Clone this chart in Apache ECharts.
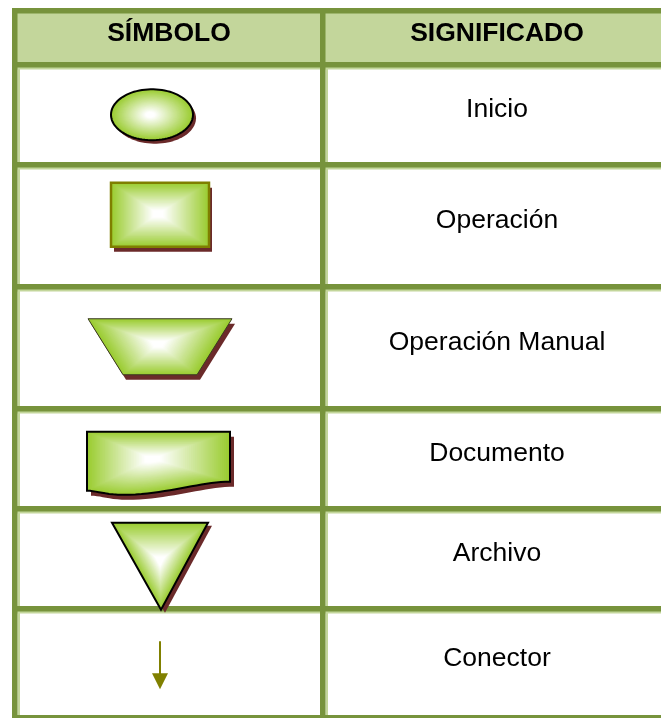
<!DOCTYPE html>
<html><head><meta charset="utf-8">
<script src="https://cdn.jsdelivr.net/npm/echarts@6/dist/echarts.min.js"></script>
<style>html,body{margin:0;padding:0;background:#fff;overflow:hidden}#c{width:661px;height:718px}</style>
</head><body><div id="c"></div>
<script>
// ---- data ----
const headers = ['SÍMBOLO', 'SIGNIFICADO'];
const symbols = ['Terminal', 'Proceso', 'Manual', 'Documento', 'Archivo', 'Conector'];
const meanings = ['Inicio', 'Operación', 'Operación Manual', 'Documento', 'Archivo', 'Conector'];

// ---- layout (table rules, in page units) ----
const rowLines = [8, 62, 162, 284, 406, 506, 606, 715];
const colLines = [12, 320];
const X1 = 672;
const DARK = '#77933C', LIGHT = '#C3D69B', HEAD = '#C3D69B';
const GREEN = '#9ACC30', WHITE = '#FFFFFF', SHADOW = '#6B2A2A';
const FAMILY = 'Liberation Sans';

function rowCenter(i) {
  const top = rowLines[i] + 5.5;
  return (top + rowLines[i + 1]) / 2;
}
function hex(c) { return [parseInt(c.substr(1,2),16), parseInt(c.substr(3,2),16), parseInt(c.substr(5,2),16)]; }
function mix(a, b, t) {
  const A = hex(a), B = hex(b);
  return 'rgb(' + A.map((v, k) => Math.round(v + (B[k] - v) * t)).join(',') + ')';
}
function bez(p0, p1, p2, p3, n) {
  const out = [];
  for (let k = 1; k <= n; k++) {
    const t = k / n, u = 1 - t;
    out.push([u*u*u*p0[0] + 3*u*u*t*p1[0] + 3*u*t*t*p2[0] + t*t*t*p3[0],
              u*u*u*p0[1] + 3*u*u*t*p1[1] + 3*u*t*t*p2[1] + t*t*t*p3[1]]);
  }
  return out;
}
function shapeGeom(name, rc) {
  if (name === 'Terminal') {
    const pts = [];
    for (let a = 0; a < 90; a++) { const t = a / 90 * 2 * Math.PI; pts.push([152 + 41 * Math.cos(t), rc + 25.5 * Math.sin(t)]); }
    return { pts, shadow: [3, 3.5], stroke: '#000', lw: 2, origin: [150, rc] };
  }
  if (name === 'Proceso') {
    return { pts: [[111, rc - 43], [209, rc - 43], [209, rc + 21], [111, rc + 21]], shadow: [3, 5], stroke: '#7F7F00', lw: 2.5, origin: [158, rc - 12] };
  }
  if (name === 'Manual') {
    return { pts: [[88, rc - 29], [232, rc - 29], [197, rc + 27], [123, rc + 27]], shadow: [3, 5], stroke: '#3A3A20', lw: 1, origin: [158, rc - 4] };
  }
  if (name === 'Documento') {
    let pts = [[87, rc - 27], [230, rc - 27], [230, rc + 23]];
    pts = pts.concat(bez([230, rc + 23], [200, rc + 23], [165, rc + 36], [123, rc + 36], 20));
    pts = pts.concat(bez([123, rc + 36], [105, rc + 36], [97, rc + 32], [87, rc + 32], 10));
    return { pts, shadow: [4, 5], stroke: '#000', lw: 2, origin: [152, rc] };
  }
  if (name === 'Archivo') {
    return { pts: [[112, rc - 36], [208, rc - 36], [161, rc + 51]], shadow: [4, 3], stroke: '#000', lw: 2, origin: [160, rc + 2] };
  }
  return null;
}
function textEl(p, str, weight) {
  return { type: 'text', x: p[0], y: p[1], style: { text: str, fontFamily: FAMILY, fontSize: 26.5, fontWeight: weight, fill: '#000', align: 'center', verticalAlign: 'middle', textAlign: 'center', textVerticalAlign: 'middle' } };
}

const chart = echarts.init(document.getElementById('c'));
chart.setOption({
  animation: false,
  grid: { left: 0, right: 0, top: 0, bottom: 0 },
  xAxis: { type: 'value', min: 0, max: 661, show: false },
  yAxis: { type: 'value', min: 0, max: 718, inverse: true, show: false },
  series: [
    { // header background
      type: 'custom', z: 1, silent: true,
      data: [[0]],
      renderItem: function (params, api) {
        const a = api.coord([colLines[0], rowLines[0]]), b = api.coord([X1, rowLines[1] + 4]);
        return { type: 'rect', shape: { x: a[0], y: a[1], width: b[0] - a[0], height: b[1] - a[1] }, style: { fill: HEAD } };
      }
    },
    { // light rules
      type: 'custom', z: 2, silent: true,
      data: rowLines.map((y, i) => [0, i]).concat(colLines.map((x, i) => [1, i])),
      renderItem: function (params, api) {
        const kind = api.value(0), i = api.value(1);
        let a, b;
        if (kind === 0) { const y = rowLines[i]; a = api.coord([colLines[0], y + 5]); b = api.coord([X1, y + 7.5]); }
        else { const x = colLines[i]; a = api.coord([x + 5.5, rowLines[1]]); b = api.coord([x + 8, 718]); }
        return { type: 'rect', shape: { x: a[0], y: a[1], width: b[0] - a[0], height: b[1] - a[1] }, style: { fill: LIGHT } };
      }
    },
    { // dark rules
      type: 'custom', z: 3, silent: true,
      data: rowLines.map((y, i) => [0, i]).concat(colLines.map((x, i) => [1, i])),
      renderItem: function (params, api) {
        const kind = api.value(0), i = api.value(1);
        let a, b;
        if (kind === 0) { const y = rowLines[i]; a = api.coord([colLines[0], y]); b = api.coord([X1, y + 5.5]); }
        else { const x = colLines[i]; a = api.coord([x, rowLines[0]]); b = api.coord([x + 5.5, 718]); }
        return { type: 'rect', shape: { x: a[0], y: a[1], width: b[0] - a[0], height: b[1] - a[1] }, style: { fill: DARK } };
      }
    },
    { // header texts
      type: 'custom', z: 4, silent: true,
      data: headers.map((h, i) => [i]),
      renderItem: function (params, api) {
        const i = api.value(0);
        const cx = i === 0 ? 169 : 497;
        return textEl(api.coord([cx, rowCenter(0) - 4]), headers[i], 'bold');
      }
    },
    { // meaning texts
      type: 'custom', z: 4, silent: true,
      data: meanings.map((m, i) => [i]),
      renderItem: function (params, api) {
        const i = api.value(0);
        return textEl(api.coord([497, rowCenter(i + 1) - 5]), meanings[i], 'normal');
      }
    },
    { // symbols
      type: 'custom', z: 5, silent: true,
      data: symbols.map((s, i) => [i]),
      renderItem: function (params, api) {
        const i = api.value(0);
        const rc = rowCenter(i + 1);
        const name = symbols[i];
        if (name === 'Conector') {
          const l1 = api.coord([160, rc - 22]), l2 = api.coord([160, rc + 12]);
          const h = [[152, rc + 10], [168, rc + 10], [160, rc + 26]].map(p => api.coord(p));
          return { type: 'group', children: [
            { type: 'line', shape: { x1: l1[0], y1: l1[1], x2: l2[0], y2: l2[1] }, style: { stroke: '#808000', lineWidth: 2 } },
            { type: 'polygon', shape: { points: h }, style: { fill: '#808000' } }
          ] };
        }
        const g = shapeGeom(name, rc);
        const pix = g.pts.map(p => api.coord(p));
        const sh = g.pts.map(p => api.coord([p[0] + g.shadow[0], p[1] + g.shadow[1]]));
        const o = api.coord(g.origin);
        const children = [{ type: 'polygon', shape: { points: sh }, style: { fill: SHADOW } }];
        const n = 40;
        for (let k = 0; k < n; k++) {
          const s = 1 - k / n;
          const t = Math.min(1, (k / (n - 1)) * 1.1);
          children.push({ type: 'polygon', shape: { points: pix }, scaleX: s, scaleY: s, originX: o[0], originY: o[1], style: { fill: mix(GREEN, WHITE, t) } });
        }
        children.push({ type: 'polygon', shape: { points: pix }, style: { fill: 'none', stroke: g.stroke, lineWidth: g.lw, lineJoin: 'miter' } });
        return { type: 'group', children };
      }
    }
  ]
});
</script>
</body></html>
